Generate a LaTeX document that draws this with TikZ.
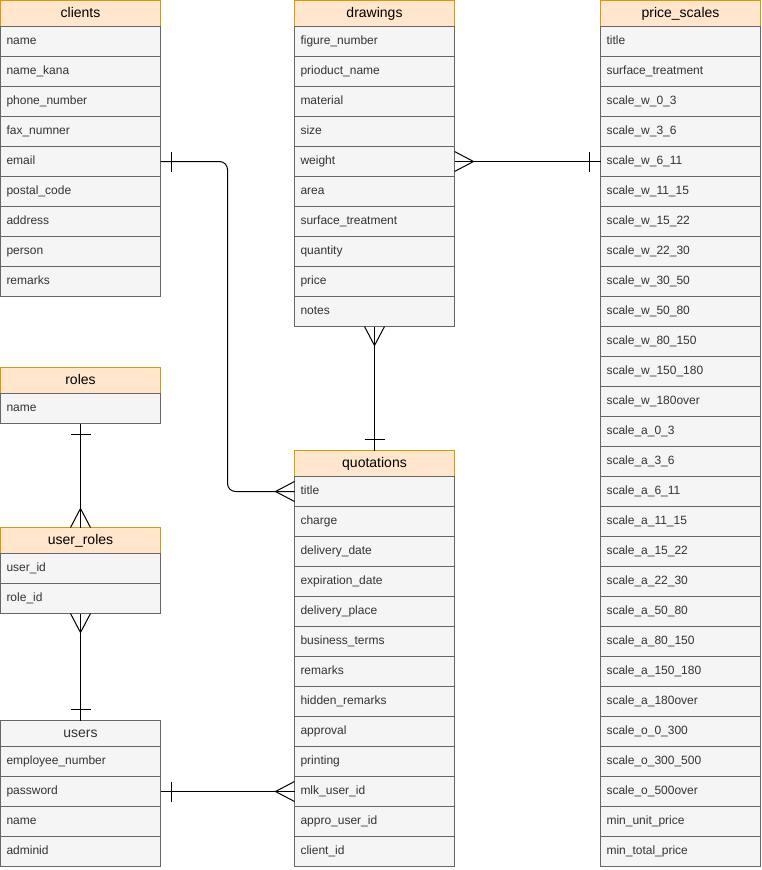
\documentclass[tikz,border=0pt]{standalone}
\usepackage{fontspec}
\setmainfont{Liberation Sans}
\usetikzlibrary{positioning}

\definecolor{headfill}{HTML}{FFE6CC}
\definecolor{headline}{HTML}{D79B00}
\definecolor{rowfill}{HTML}{F5F5F5}
\definecolor{rowline}{HTML}{666666}
\definecolor{rowtext}{HTML}{333333}

\begin{document}
\begin{tikzpicture}[
  x=1pt, y=1pt, line width=1pt,
  head/.style={rectangle, draw=headline, fill=headfill, minimum width=160pt, minimum height=26pt, inner sep=0pt, outer sep=0pt, text height=10pt, text depth=3pt, font=\fontsize{14}{16}\selectfont},
  plainhead/.style={head, draw=rowline, fill=rowfill, text=rowtext},
  field/.style={rectangle, draw=rowline, fill=rowfill, text=rowtext, minimum width=160pt, minimum height=30pt, text width=148pt, align=left, inner xsep=6pt, inner ysep=0pt, outer sep=0pt, text height=8.5pt, text depth=2.5pt, font=\fontsize{12}{14}\selectfont},
  one/.pic={\draw (-11,-10) -- (-11,10);},
  many/.pic={\draw (0,10) -- (-19,0) -- (0,-10);}
]
\useasboundingbox (-0.5,0.5) rectangle (760.5,-869.5);

% Tables
\node[head, anchor=north west] (clients-0) at (0,0) {clients};
\foreach \f [count=\i, remember=\i as \p (initially 0)] in {name, name\_kana, phone\_number, fax\_numner, email, postal\_code, address, person, remarks}
  \node[field, below=0pt of clients-\p] (clients-\i) {\f};

\node[head, right=134pt of clients-0] (drawings-0) {drawings};
\foreach \f [count=\i, remember=\i as \p (initially 0)] in {figure\_number, prioduct\_name, material, size, weight, area, surface\_treatment, quantity, price, notes}
  \node[field, below=0pt of drawings-\p] (drawings-\i) {\f};

\node[head, right=146pt of drawings-0] (prices-0) {price\_scales};
\foreach \f [count=\i, remember=\i as \p (initially 0)] in {title, surface\_treatment,
  scale\_w\_0\_3, scale\_w\_3\_6, scale\_w\_6\_11, scale\_w\_11\_15, scale\_w\_15\_22, scale\_w\_22\_30, scale\_w\_30\_50, scale\_w\_50\_80, scale\_w\_80\_150, scale\_w\_150\_180, scale\_w\_180over,
  scale\_a\_0\_3, scale\_a\_3\_6, scale\_a\_6\_11, scale\_a\_11\_15, scale\_a\_15\_22, scale\_a\_22\_30, scale\_a\_50\_80, scale\_a\_80\_150, scale\_a\_150\_180, scale\_a\_180over,
  scale\_o\_0\_300, scale\_o\_300\_500, scale\_o\_500over, min\_unit\_price, min\_total\_price}
  \node[field, below=0pt of prices-\p] (prices-\i) {\f};

\node[head, below=71pt of clients-9] (roles-0) {roles};
\node[field, below=0pt of roles-0] (roles-1) {name};

\node[head, below=104pt of roles-1] (userroles-0) {user\_roles};
\foreach \f [count=\i, remember=\i as \p (initially 0)] in {user\_id, role\_id}
  \node[field, below=0pt of userroles-\p] (userroles-\i) {\f};

\node[plainhead, below=107pt of userroles-2] (users-0) {users};
\foreach \f [count=\i, remember=\i as \p (initially 0)] in {employee\_number, password, name, adminid}
  \node[field, below=0pt of users-\p] (users-\i) {\f};

\node[head, below=124pt of drawings-10] (quotations-0) {quotations};
\foreach \f [count=\i, remember=\i as \p (initially 0)] in {title, charge, delivery\_date, expiration\_date, delivery\_place, business\_terms, remarks, hidden\_remarks, approval, printing, mlk\_user\_id, appro\_user\_id, client\_id}
  \node[field, below=0pt of quotations-\p] (quotations-\i) {\f};

% Relationships
\draw[rounded corners=8pt] (clients-5.east) -- ++(67,0) |- (quotations-1.west);
\pic[rotate=180] at (clients-5.east) {one};
\pic at (quotations-1.west) {many};

\draw (drawings-5.east) -- (prices-5.west);
\pic[rotate=180] at (drawings-5.east) {many};
\pic at (prices-5.west) {one};

\draw (drawings-10.south) -- (quotations-0.north);
\pic[rotate=90] at (drawings-10.south) {many};
\pic[rotate=-90] at (quotations-0.north) {one};

\draw (roles-1.south) -- (userroles-0.north);
\pic[rotate=90] at (roles-1.south) {one};
\pic[rotate=-90] at (userroles-0.north) {many};

\draw (userroles-2.south) -- (users-0.north);
\pic[rotate=90] at (userroles-2.south) {many};
\pic[rotate=-90] at (users-0.north) {one};

\draw (users-2.east) -- (quotations-11.west);
\pic[rotate=180] at (users-2.east) {one};
\pic at (quotations-11.west) {many};

\end{tikzpicture}
\end{document}
